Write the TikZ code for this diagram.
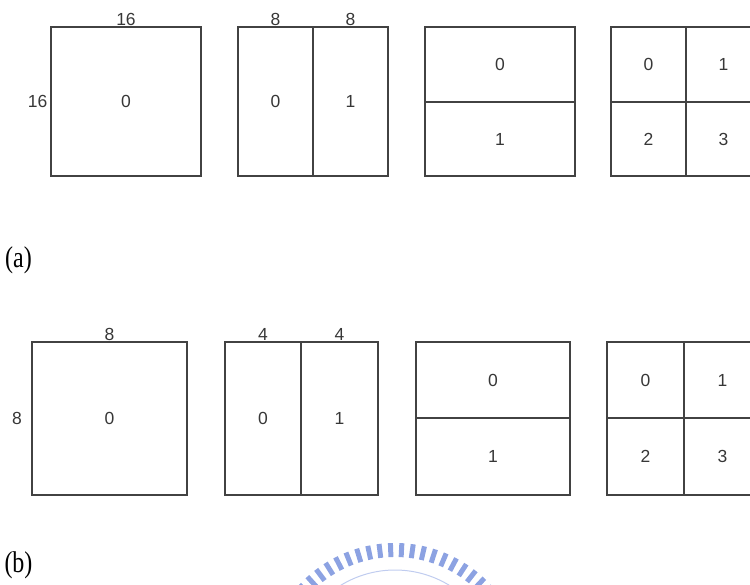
\documentclass[tikz,border=0pt]{standalone}
\usepackage{fontspec}
\setmainfont{Liberation Serif}
\setsansfont{Liberation Sans}
\usetikzlibrary{positioning}
\definecolor{PartInk}{RGB}{66,66,66}
\definecolor{PartText}{RGB}{55,55,55}
\definecolor{PartSeal}{RGB}{140,162,226}
\tikzset{
  part/cell/.style={
    rectangle,
    draw=PartInk,
    line width=1.8pt,
    inner sep=0pt,
    text=PartText,
    font=\sffamily\fontsize{17.5}{20}\selectfont
  },
  part/dim/.style={
    inner sep=0pt,
    text=PartText,
    font=\sffamily\fontsize{17.5}{20}\selectfont
  },
  part/caption/.style={
    inner sep=0pt,
    text=black,
    font=\rmfamily\fontsize{30}{33}\selectfont
  },
  part/seal/.style={draw=PartSeal, line width=5pt},
  part/sealring/.style={draw=PartSeal!55, line width=1pt}
}

\begin{document}
\begin{tikzpicture}[x=1pt,y=-1pt]
  \useasboundingbox (0,0) rectangle (750,584);
  \clip (0,0) rectangle (750,584);
  % (a) 16x16 block
  \node[part/cell,minimum width=150pt,minimum height=149pt] (a1) at (126,101.5) {0};
  \node[part/cell,minimum width=75pt,minimum height=149pt] (a2l) at (275.5,101.5) {0};
  \node[part/cell,minimum width=75pt,minimum height=149pt] (a2r) at (350.5,101.5) {1};
  \node[part/cell,minimum width=150pt,minimum height=75pt] (a3t) at (500,64.5) {0};
  \node[part/cell,minimum width=150pt,minimum height=74pt] (a3b) at (500,139) {1};
  \node[part/cell,minimum width=75pt,minimum height=75pt] (a4a) at (648.5,64.5) {0};
  \node[part/cell,minimum width=75pt,minimum height=75pt] (a4b) at (723.5,64.5) {1};
  \node[part/cell,minimum width=75pt,minimum height=74pt] (a4c) at (648.5,139) {2};
  \node[part/cell,minimum width=75pt,minimum height=74pt] (a4d) at (723.5,139) {3};
  \node[part/dim,anchor=base] (a1w) at ([yshift=0.8pt]a1.north) {16};
  \node[part/dim,left=2.5pt of a1] (a1h) {16};
  \node[part/dim,anchor=base] (a2lw) at ([yshift=0.8pt]a2l.north) {8};
  \node[part/dim,anchor=base] (a2rw) at ([yshift=0.8pt]a2r.north) {8};
  \node[part/caption] (capa) at (18.5,260) {\scalebox{0.8}[1]{(a)}};
  % (b) 8x8 block
  \node[part/cell,minimum width=155pt,minimum height=153pt] (b1) at (109.5,418.5) {0};
  \node[part/cell,minimum width=76pt,minimum height=153pt] (b2l) at (263,418.5) {0};
  \node[part/cell,minimum width=77pt,minimum height=153pt] (b2r) at (339.5,418.5) {1};
  \node[part/cell,minimum width=154pt,minimum height=76pt] (b3t) at (493,380) {0};
  \node[part/cell,minimum width=154pt,minimum height=77pt] (b3b) at (493,456.5) {1};
  \node[part/cell,minimum width=77pt,minimum height=76pt] (b4a) at (645.5,380) {0};
  \node[part/cell,minimum width=77pt,minimum height=76pt] (b4b) at (722.5,380) {1};
  \node[part/cell,minimum width=77pt,minimum height=77pt] (b4c) at (645.5,456.5) {2};
  \node[part/cell,minimum width=77pt,minimum height=77pt] (b4d) at (722.5,456.5) {3};
  \node[part/dim,anchor=base] (b1w) at ([yshift=0.8pt]b1.north) {8};
  \node[part/dim,left=9pt of b1] (b1h) {8};
  \node[part/dim,anchor=base] (b2lw) at ([yshift=0.8pt]b2l.north) {4};
  \node[part/dim,anchor=base] (b2rw) at ([yshift=0.8pt]b2r.north) {4};
  \node[part/caption] (capb) at (18.5,565) {\scalebox{0.8}[1]{(b)}};
  % seal at the bottom edge
  \coordinate (seal) at (395,674);
  \foreach \a in {42,47,...,138}{\draw[part/seal] ([shift={(\a:117pt)}]seal) -- ([shift={(\a:131pt)}]seal);}
  \draw[part/sealring] ([shift={(40:104pt)}]seal) arc[start angle=40,end angle=140,radius=104pt];
\end{tikzpicture}
\end{document}
